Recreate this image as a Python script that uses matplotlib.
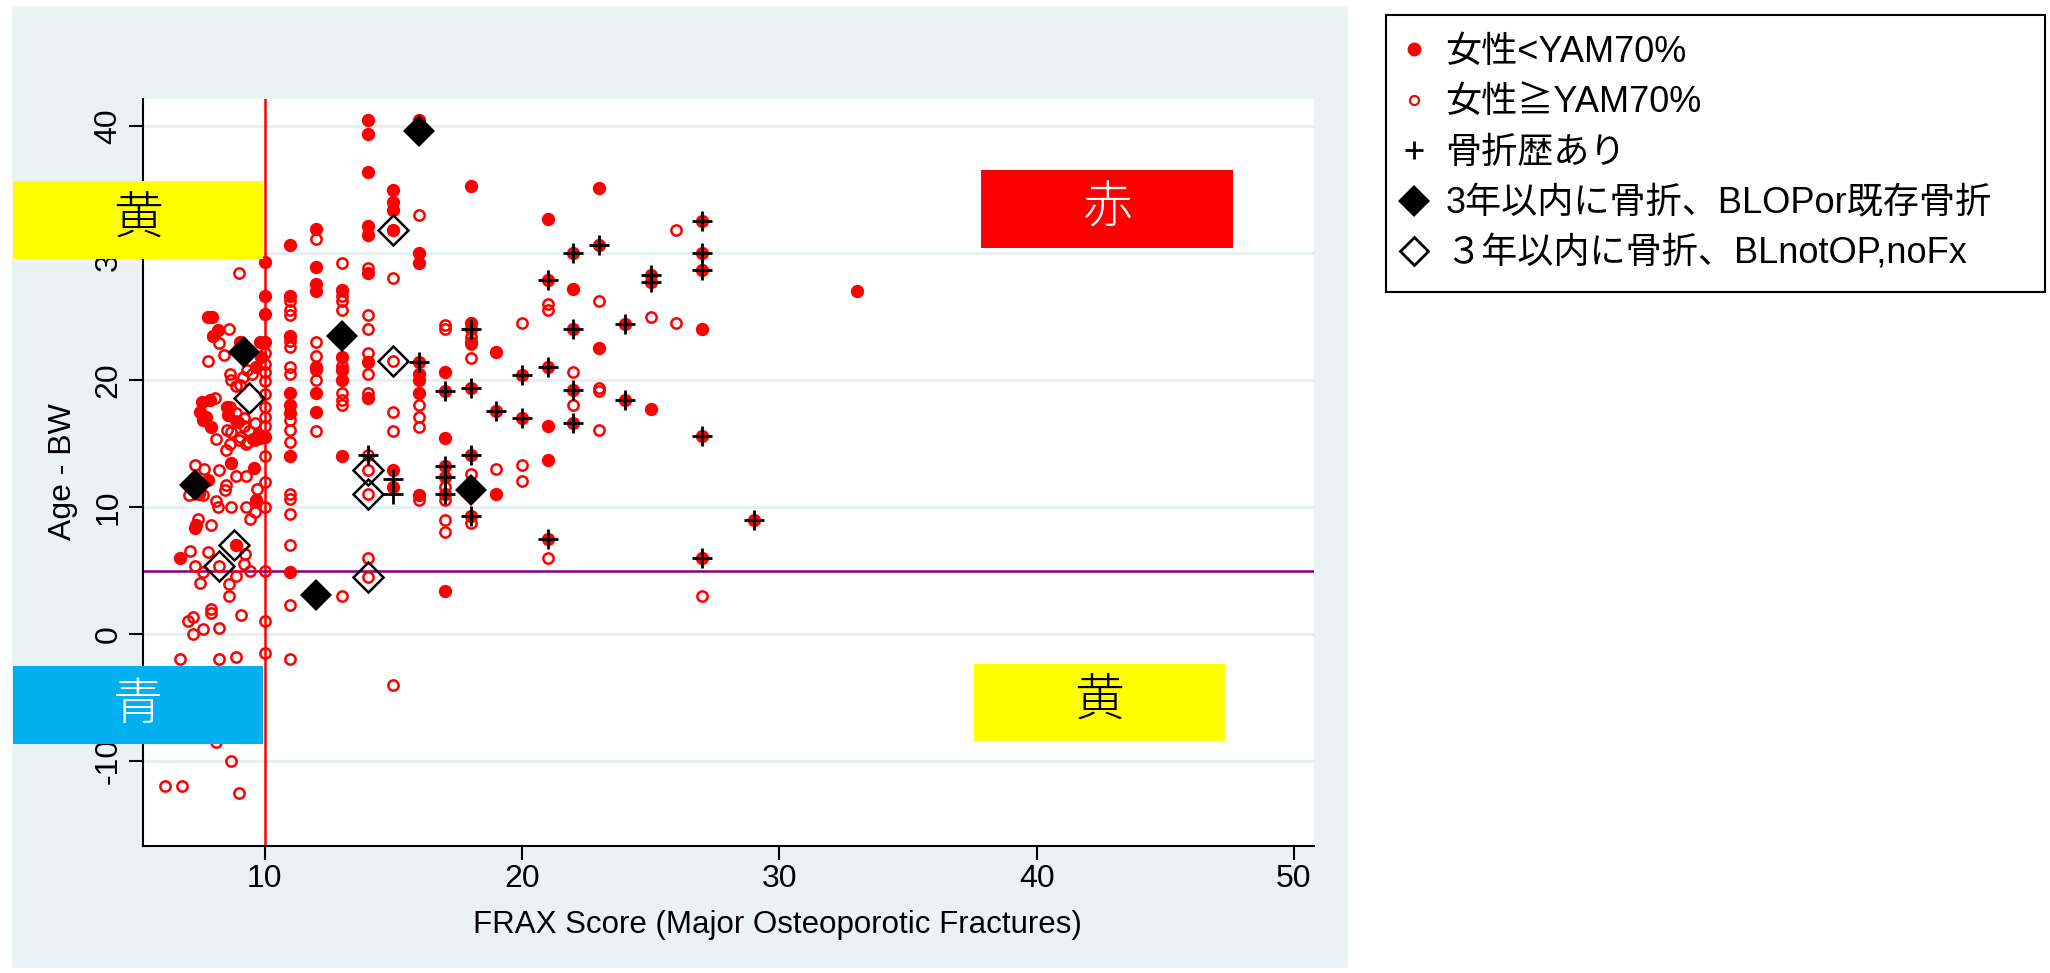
import matplotlib
matplotlib.use("Agg")
import matplotlib.pyplot as plt
from matplotlib.patches import Rectangle
from matplotlib.lines import Line2D
from matplotlib.font_manager import FontProperties

plt.rcParams['font.family'] = ['Liberation Sans', 'Noto Sans CJK JP', 'DejaVu Sans']
plt.rcParams['axes.unicode_minus'] = False

# 女性<YAM70% (filled red)
filled_x = [7.80, 7.95, 8.19, 7.99, 9.03, 9.8, 9.68, 9.85,
            7.55, 7.86, 7.47, 7.73, 7.6, 7.9, 8.55, 8.57, 8.96, 9.74, 9.8, 9.55,
            8.7, 9.6, 7.8, 7.45, 9.68, 7.28, 7.32, 6.7, 8.9,
            10, 10, 10, 10, 10,
            11, 11, 11, 11, 11, 11, 11, 11,
            12, 12, 12, 12, 12, 12, 12,
            13, 13, 13, 13, 13,
            14, 14, 14, 14, 14, 14, 14, 14,
            15, 15, 15, 15, 15, 15,
            16, 16, 16, 16, 16, 16, 16, 16,
            17, 17, 17, 17, 17, 17, 17,
            18, 18, 18, 18, 18, 18, 18,
            19, 19, 19,
            20, 20,
            21, 21, 21, 21, 21, 21,
            22, 22, 22, 22, 22,
            23, 23, 23,
            24, 24,
            25, 25, 25,
            27, 27, 27, 27, 27, 27,
            29, 33]
filled_y = [24.95, 24.95, 23.95, 23.5, 23.0, 23.0, 21.05, 21.8,
            18.25, 18.45, 17.5, 17.1, 16.85, 16.3, 17.9, 17.24, 16.72, 15.67, 15.45, 15.35,
            13.44, 13.1, 12.13, 11.0, 10.56, 8.33, 8.6, 5.96, 7.0,
            29.3, 26.6, 25.2, 23.0, 15.5,
            30.6, 26.6, 23.5, 19.0, 18.0, 17.4, 14.0, 4.9,
            31.9, 28.9, 27.6, 27.0, 21.0, 18.95, 17.45,
            27.1, 21.8, 20.8, 20.0, 14.0,
            40.5, 39.4, 36.35, 32.15, 31.4, 28.4, 21.4, 18.55,
            35.0, 34.0, 33.4, 31.8, 12.9, 11.6,
            40.5, 30.0, 29.2, 21.4, 20.5, 20.0, 18.95, 10.95,
            20.6, 19.1, 15.4, 13.2, 12.4, 11.0, 3.4,
            35.3, 24.5, 24.0, 23.0, 19.4, 14.1, 9.3,
            22.2, 17.6, 11.0,
            20.4, 17.0,
            32.7, 27.9, 21.0, 16.4, 13.7, 7.5,
            30.0, 27.2, 24.0, 19.2, 16.6,
            35.1, 30.6, 22.5,
            24.4, 18.4,
            28.3, 27.7, 17.7,
            32.5, 30.0, 28.7, 24.0, 15.6, 6.0,
            9.0, 27.0]

# 女性≧YAM70% (open red)
open_x = [9.0, 8.61, 8.23, 8.41, 7.8, 8.64, 8.7, 8.9, 9.16, 9.03, 9.3, 9.5,
          8.06, 8.64, 8.9, 9.2, 8.55, 8.7, 9.03, 9.35, 9.61, 9.61, 9.4, 9.2, 8.9,
          8.1, 8.48, 8.64, 9.0, 9.29,
          7.31, 7.63, 8.21, 8.88, 9.29, 8.51, 8.45, 9.7, 7.06, 7.6, 8.12, 8.19, 8.7, 9.29, 9.61,
          7.41, 7.9, 9.42,
          7.11, 7.8, 9.22, 9.18, 9.42, 8.21, 7.31, 7.6, 7.5, 8.9, 8.61, 8.61,
          7.9, 7.9, 7.21, 7.02, 7.21, 7.6, 8.21, 9.09,
          6.7, 8.21, 8.9, 8.1, 8.7, 6.11, 6.8, 9.0,
          10, 10, 10, 10, 10, 10, 10, 10, 10, 10, 10, 10, 10, 10,
          11, 11, 11, 11, 11, 11, 11, 11, 11, 11, 11, 11, 11, 11, 11, 11,
          12, 12, 12, 12, 12, 12,
          13, 13, 13, 13, 13, 13, 13, 13, 13,
          14, 14, 14, 14, 14, 14, 14, 14, 14, 14, 14,
          15, 15, 15, 15, 15,
          16, 16, 16, 16, 16,
          17, 17, 17, 17, 17, 17,
          18, 18, 18, 18, 18,
          19,
          20, 20, 20,
          21, 21, 21,
          22, 22,
          23, 23, 23, 23,
          25,
          26, 26,
          27]
open_y = [28.45, 24.0, 22.95, 21.97, 21.5, 20.5, 20.0, 19.5, 20.26, 19.6, 20.8, 20.5,
          18.56, 17.9, 17.38, 17.0, 16.07, 15.93, 15.54, 15.14, 15.28, 16.59, 16.0, 16.4, 16.8,
          15.36, 14.5, 15.0, 15.28, 15.0,
          13.31, 13.03, 12.89, 12.42, 12.42, 11.74, 11.34, 11.4, 10.95, 10.95, 10.5, 9.98, 9.98, 9.98, 9.64,
          9.03, 8.59, 9.03,
          6.57, 6.49, 6.3, 5.52, 4.97, 5.39, 5.39, 4.86, 4.0, 4.6, 3.92, 3.0,
          2.0, 1.63, 1.32, 1.03, 0.0, 0.37, 0.45, 1.5,
          -1.99, -1.99, -1.78, -8.5, -10.0, -12.0, -12.0, -12.5,
          22.1, 21.3, 20.6, 19.9, 18.9, 17.9, 17.1, 16.4, 14.0, 12.0, 10.0, 5.0, 1.0, -1.5,
          26.2, 25.5, 25.1, 23.1, 22.6, 21.0, 20.5, 16.85, 16.1, 15.1, 11.0, 10.6, 9.45, 7.0, 2.3, -2.0,
          31.1, 23.0, 21.9, 20.8, 20.0, 16.0,
          29.2, 26.6, 26.2, 25.5, 21.1, 18.95, 18.4, 18.0, 3.0,
          28.8, 25.1, 24.0, 22.1, 20.5, 19.0, 14.1, 12.9, 11.0, 6.0, 4.5,
          28.0, 21.5, 17.5, 16.0, -4.0,
          33.0, 18.0, 17.1, 16.3, 10.55,
          24.33, 24.0, 11.6, 10.55, 9.0, 8.0,
          23.4, 22.8, 21.7, 12.6, 8.75,
          13.0,
          24.5, 13.3, 12.05,
          26.0, 25.5, 6.0,
          20.6, 18.0,
          26.2, 19.4, 19.15, 16.05,
          25.0,
          31.8, 24.5,
          3.0]

# 骨折歴あり (+)
fx_x = [14, 15, 15, 16, 17, 17, 17, 17, 18, 18, 18, 18, 19, 20, 20,
        21, 21, 21, 22, 22, 22, 22, 23, 24, 24, 25, 25,
        27, 27, 27, 27, 27, 29]
fx_y = [14.1, 12.2, 11.0, 21.4, 19.1, 13.2, 12.4, 11.0, 24.0, 19.4, 14.1, 9.3, 17.6, 20.4, 17.0,
        27.9, 21.0, 7.5, 30.0, 24.0, 19.2, 16.6, 30.6, 24.4, 18.4, 28.3, 27.7,
        32.5, 30.0, 28.7, 15.6, 6.0, 9.0]

# 3年以内に骨折、BLOPor既存骨折 (filled diamond)
dia_x = [7.3, 9.18, 12, 13, 16, 18]
dia_y = [11.7, 22.2, 3.1, 23.5, 39.6, 11.35]

# ３年以内に骨折、BLnotOP,noFx (open diamond)
odia_x = [8.21, 8.8, 9.39, 14, 14, 14, 15, 15]
odia_y = [5.39, 7.0, 18.6, 12.9, 11.0, 4.5, 31.8, 21.5]

labels = ['女性<YAM70%', '女性≧YAM70%', '骨折歴あり',
          '3年以内に骨折、BLOPor既存骨折', '３年以内に骨折、BLnotOP,noFx']

# colored zone boxes
zone_x0 = [0.21, 37.83, 0.21, 37.56]
zone_x1 = [9.92, 47.62, 9.92, 47.31]
zone_y0 = [29.53, 30.39, -8.64, -8.4]
zone_y1 = [35.67, 36.54, -2.5, -2.34]
zone_fc = ['#FFFF00', '#FF0000', '#00B0F0', '#FFFF00']
zone_txt = ['黄', '赤', '青', '黄']
zone_tc = ['black', 'white', 'white', 'black']

W, H = 2050, 973
fig = plt.figure(figsize=(W / 100, H / 100), dpi=100)
fig.patch.set_facecolor('white')
# gray graph region behind the plot
fig.patches.append(Rectangle((12 / W, 1 - 968 / H), 1336 / W, 962 / H,
                             transform=fig.transFigure, facecolor='#EAF2F3',
                             edgecolor='none', zorder=-10))

ax = fig.add_axes([143 / W, 1 - 846 / H, 1171 / W, 747 / H])
ax.set_facecolor('white')
ax.set_xlim(5.27, 50.78)
ax.set_ylim(-16.69, 42.13)

for s in ['top', 'right']:
    ax.spines[s].set_visible(False)
for s in ['left', 'bottom']:
    ax.spines[s].set_linewidth(1.5)

ax.set_xticks([10, 20, 30, 40, 50])
ax.set_yticks([-10, 0, 10, 20, 30, 40])
ax.tick_params(axis='both', labelsize=23, length=10, width=1.5)
ax.tick_params(axis='x', pad=3)
ax.tick_params(axis='y', pad=4, labelrotation=90)
for t in ax.get_yticklabels():
    t.set_va('center')
ax.yaxis.grid(True, color='#E6EEF0', lw=2.0)
ax.set_axisbelow(True)

# reference lines
ax.axvline(10, color='red', lw=1.8, zorder=1.5)
ax.axhline(5, color='#800080', lw=1.8, zorder=1.5)

ax.plot(open_x, open_y, ls='none', marker='o', ms=7.4, mfc='none', mec='red', mew=1.8, zorder=3)
ax.plot(filled_x, filled_y, ls='none', marker='o', ms=9.6, mfc='red', mec='red', mew=0, zorder=3)
ax.plot(fx_x, fx_y, ls='none', marker='+', ms=14.8, color='black', mew=2.0, zorder=4)
ax.plot(dia_x, dia_y, ls='none', marker='D', ms=16, mfc='black', mec='black', mew=0, zorder=4)
ax.plot(odia_x, odia_y, ls='none', marker='D', ms=15, mfc='none', mec='black', mew=1.8, zorder=4)

# zone boxes
for i in range(len(zone_txt)):
    ax.add_patch(Rectangle((zone_x0[i], zone_y0[i]), zone_x1[i] - zone_x0[i], zone_y1[i] - zone_y0[i],
                           facecolor=zone_fc[i], edgecolor='none', clip_on=False, zorder=6))
    ax.text((zone_x0[i] + zone_x1[i]) / 2, (zone_y0[i] + zone_y1[i]) / 2, zone_txt[i],
            color=zone_tc[i], fontsize=36, ha='center', va='center', clip_on=False, zorder=7,
            family=['Noto Sans CJK JP'], fontweight='light')

fig.text(777 / W, 1 - 925 / H, 'FRAX Score (Major Osteoporotic Fractures)',
         fontsize=22.5, ha='center', va='center')
fig.text(63 / W, 1 - 472 / H, 'Age - BW', fontsize=23, rotation=90, ha='center', va='center')

handles = [
    Line2D([], [], ls='none', marker='o', ms=10, mfc='red', mec='red', mew=0),
    Line2D([], [], ls='none', marker='o', ms=6.5, mfc='none', mec='red', mew=1.6),
    Line2D([], [], ls='none', marker='+', ms=13, color='black', mew=2),
    Line2D([], [], ls='none', marker='D', ms=16, mfc='black', mec='black', mew=0),
    Line2D([], [], ls='none', marker='D', ms=14.5, mfc='none', mec='black', mew=2),
]
leg = ax.legend(handles, labels, loc='upper left',
                bbox_to_anchor=(1386 / W, 1 - 288 / H, 659 / W, 273 / H),
                bbox_transform=fig.transFigure, mode='expand',
                prop=FontProperties(family=['Liberation Sans', 'Noto Sans CJK JP'], size=26),
                frameon=True, fancybox=False, edgecolor='black', framealpha=1,
                borderpad=0.55, labelspacing=0.43, handlelength=0.45, handletextpad=0.64,
                borderaxespad=0)
leg.get_frame().set_linewidth(1.5)

fig.savefig('out.png', dpi=100)
